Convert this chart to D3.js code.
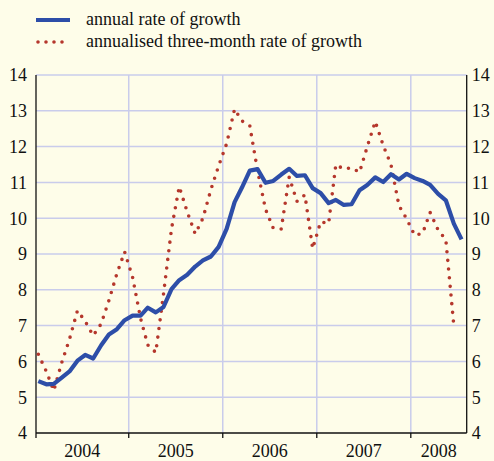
<!DOCTYPE html>
<html>
<head>
<meta charset="utf-8">
<script src="https://cdn.jsdelivr.net/npm/d3@7"></script>
<style>
  body { margin: 0; background: #fefde9; }
  text { font-family: "Liberation Serif", "Times New Roman", serif; fill: #111; }
</style>
</head>
<body>
<div id="chart"></div>
<script>
// monthly data, Jan 2004 onwards
var annualGrowth = [5.45, 5.36, 5.37, 5.55, 5.72, 6.02, 6.18, 6.08, 6.45, 6.75, 6.9, 7.15,
  7.28, 7.28, 7.5, 7.37, 7.52, 8.02, 8.27, 8.42, 8.65, 8.82, 8.93, 9.2,
  9.7, 10.45, 10.85, 11.33, 11.37, 10.99, 11.04, 11.22, 11.38, 11.18, 11.2, 10.84,
  10.7, 10.42, 10.51, 10.37, 10.39, 10.78, 10.93, 11.14, 11.01, 11.23, 11.08, 11.24,
  11.12, 11.04, 10.93, 10.68, 10.5, 9.85, 9.41];
var threeMonthGrowth = [6.2, 5.72, 5.18, 5.97, 6.62, 7.42, 7.12, 6.72, 7.05, 7.7, 8.45, 9.06,
  8.35, 7.2, 6.46, 6.25, 7.88, 9.7, 10.88, 10.18, 9.56, 10.0, 10.8, 11.46,
  12.08, 13.05, 12.72, 12.58, 11.33, 10.25, 9.72, 9.7, 11.15, 10.47, 10.65, 9.15,
  9.9, 9.85, 11.5, 11.37, 11.41, 11.28, 12.0, 12.7, 12.03, 11.5, 10.35, 9.98,
  9.52, 9.58, 10.16, 9.67, 9.4, 7.0];
var years = [2004, 2005, 2006, 2007, 2008];
var yTicks = [4, 5, 6, 7, 8, 9, 10, 11, 12, 13, 14];
var legendLabels = ["annual rate of growth", "annualised three-month rate of growth"];

var W = 494, H = 461;
var plotLeft = 36, plotRight = 466.7, plotTop = 75, plotBottom = 433;

var svg = d3.select("#chart").append("svg")
  .attr("width", W)
  .attr("height", H);

svg.append("rect").attr("width", W).attr("height", H).attr("fill", "#fefde9");

var x = d3.scaleTime()
  .domain([new Date(2004, 0, 7), new Date(2008, 7, 5)])
  .range([plotLeft, plotRight]);
var y = d3.scaleLinear()
  .domain([4, 14])
  .range([plotBottom, plotTop]);

function monthDate(i) { return new Date(2004, i, 16); }

// grid
svg.append("g").selectAll("line")
  .data(yTicks.slice(1))
  .enter().append("line")
  .attr("x1", plotLeft).attr("x2", plotRight)
  .attr("y1", function(d) { return y(d); })
  .attr("y2", function(d) { return y(d); })
  .attr("stroke", "#c9cceb").attr("stroke-width", 1.5);

svg.append("g").selectAll("line")
  .data(years.slice(1))
  .enter().append("line")
  .attr("x1", function(d) { return x(new Date(d, 0, 1)); })
  .attr("x2", function(d) { return x(new Date(d, 0, 1)); })
  .attr("y1", plotTop).attr("y2", plotBottom)
  .attr("stroke", "#c9cceb").attr("stroke-width", 1.5);

// axes frame
var axisG = svg.append("g").attr("stroke", "#111").attr("stroke-width", 1.3);
axisG.append("line").attr("x1", plotLeft).attr("x2", plotLeft).attr("y1", plotTop).attr("y2", plotBottom);
axisG.append("line").attr("x1", plotRight).attr("x2", plotRight).attr("y1", plotTop).attr("y2", plotBottom);
axisG.append("line").attr("x1", plotLeft).attr("x2", plotRight).attr("y1", plotBottom).attr("y2", plotBottom);

axisG.selectAll(".yt")
  .data(years)
  .enter().append("line")
  .attr("x1", function(d) { return Math.max(plotLeft, x(new Date(d, 0, 1))); })
  .attr("x2", function(d) { return Math.max(plotLeft, x(new Date(d, 0, 1))); })
  .attr("y1", plotBottom).attr("y2", plotBottom + 5);

// y labels both sides
svg.append("g").selectAll("text")
  .data(yTicks)
  .enter().append("text")
  .attr("x", plotLeft - 9)
  .attr("y", function(d) { return y(d); })
  .attr("dy", "0.35em")
  .attr("text-anchor", "end")
  .attr("font-size", 18)
  .text(function(d) { return d; });

svg.append("g").selectAll("text")
  .data(yTicks)
  .enter().append("text")
  .attr("x", plotRight + 5)
  .attr("y", function(d) { return y(d); })
  .attr("dy", "0.35em")
  .attr("text-anchor", "start")
  .attr("font-size", 18)
  .text(function(d) { return d; });

// year labels centred in each year
svg.append("g").selectAll("text")
  .data(years)
  .enter().append("text")
  .attr("x", function(d) {
    var a = Math.max(plotLeft, x(new Date(d, 0, 1)));
    var b = Math.min(plotRight, x(new Date(d + 1, 0, 1)));
    return (a + b) / 2;
  })
  .attr("y", 457)
  .attr("text-anchor", "middle")
  .attr("font-size", 18)
  .text(function(d) { return d; });

// lines
var line = d3.line()
  .x(function(d, i) { return x(monthDate(i)); })
  .y(function(d) { return y(d); });

svg.append("path")
  .datum(threeMonthGrowth)
  .attr("fill", "none")
  .attr("stroke", "#b5372c")
  .attr("stroke-width", 3.6)
  .attr("stroke-linecap", "round")
  .attr("stroke-dasharray", "0,8.7")
  .attr("d", line);

svg.append("path")
  .datum(annualGrowth)
  .attr("fill", "none")
  .attr("stroke", "#2d4ea8")
  .attr("stroke-width", 4.2)
  .attr("stroke-linejoin", "round")
  .attr("d", line);

// legend
var lg = svg.append("g");
lg.append("line")
  .attr("x1", 36).attr("x2", 70).attr("y1", 20).attr("y2", 20)
  .attr("stroke", "#2d4ea8").attr("stroke-width", 4.2);
lg.append("line")
  .attr("x1", 38).attr("x2", 70).attr("y1", 42).attr("y2", 42)
  .attr("stroke", "#b5372c").attr("stroke-width", 3.6)
  .attr("stroke-linecap", "round").attr("stroke-dasharray", "0,8");
lg.selectAll("text")
  .data(legendLabels)
  .enter().append("text")
  .attr("x", 86)
  .attr("y", function(d, i) { return 25 + i * 22; })
  .attr("font-size", 18)
  .text(function(d) { return d; });
</script>
</body>
</html>
